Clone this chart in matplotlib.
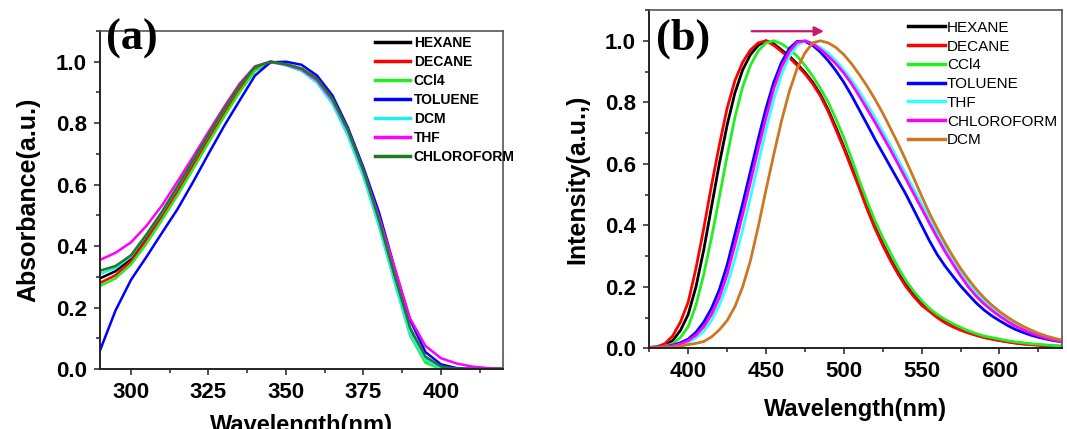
"""
Absorption and emission spectra in solvents of different polarity.
"""

import matplotlib
matplotlib.use("Agg")
import matplotlib.pyplot as plt
from matplotlib.ticker import MultipleLocator

plt.rcParams["font.family"] = ["Liberation Sans", "DejaVu Sans"]

# ---------------- (a) absorbance ----------------
abs_wl = [290, 295, 300, 305, 310, 315, 320, 325, 330, 335, 340, 345, 350, 355,
          360, 365, 370, 375, 380, 385, 390, 395, 400, 405, 410, 415, 420]
abs_labels = ["HEXANE", "DECANE", "CCl4", "TOLUENE", "DCM", "THF", "CHLOROFORM"]
abs_colors = ["#000000", "#ff0000", "#22ee22", "#0000ff", "#22eeee", "#ff00ff", "#207a20"]

abs_hexane = [0.295, 0.318, 0.358, 0.428, 0.503, 0.585, 0.670, 0.757, 0.841, 0.918, 0.980, 1.000, 0.990, 0.975,
              0.940, 0.870, 0.765, 0.630, 0.470, 0.290, 0.120, 0.030, 0.0, 0.0, 0.0, 0.0, 0.0]
abs_decane = [0.280, 0.305, 0.350, 0.420, 0.497, 0.578, 0.662, 0.748, 0.832, 0.910, 0.975, 1.000, 0.992, 0.977,
              0.945, 0.878, 0.773, 0.640, 0.480, 0.300, 0.130, 0.035, 0.005, 0.0, 0.0, 0.0, 0.0]
abs_ccl4 = [0.270, 0.295, 0.340, 0.408, 0.485, 0.565, 0.650, 0.736, 0.820, 0.900, 0.970, 0.998, 0.992, 0.976,
            0.940, 0.873, 0.770, 0.635, 0.470, 0.285, 0.110, 0.020, 0.0, 0.0, 0.0, 0.0, 0.0]
abs_toluene = [0.060, 0.190, 0.290, 0.365, 0.443, 0.520, 0.608, 0.700, 0.790, 0.873, 0.955, 0.998, 1.000, 0.990,
               0.955, 0.890, 0.785, 0.655, 0.510, 0.330, 0.160, 0.055, 0.015, 0.003, 0.0, 0.0, 0.0]
abs_dcm = [0.310, 0.328, 0.366, 0.436, 0.510, 0.592, 0.677, 0.762, 0.845, 0.922, 0.983, 1.000, 0.988, 0.970,
           0.932, 0.862, 0.758, 0.625, 0.465, 0.285, 0.115, 0.030, 0.002, 0.0, 0.0, 0.0, 0.0]
abs_thf = [0.355, 0.378, 0.412, 0.466, 0.532, 0.610, 0.690, 0.772, 0.852, 0.928, 0.985, 1.000, 0.990, 0.975,
           0.940, 0.875, 0.775, 0.645, 0.495, 0.330, 0.165, 0.075, 0.035, 0.018, 0.008, 0.003, 0.001]
abs_chloroform = [0.320, 0.335, 0.370, 0.438, 0.512, 0.594, 0.678, 0.763, 0.846, 0.922, 0.983, 1.000, 0.992, 0.978,
                  0.945, 0.880, 0.778, 0.645, 0.485, 0.305, 0.135, 0.040, 0.008, 0.0, 0.0, 0.0, 0.0]
abs_values = [abs_hexane, abs_decane, abs_ccl4, abs_toluene, abs_dcm, abs_thf, abs_chloroform]

# ---------------- (b) emission ----------------
em_wl = [375, 380, 385, 390, 395, 400, 405, 410, 415, 420, 425, 430, 435, 440, 445, 450, 455, 460,
         465, 470, 475, 480, 485, 490, 495, 500, 505, 510, 515, 520, 525, 530, 535, 540, 545, 550,
         555, 560, 565, 570, 575, 580, 585, 590, 595, 600, 605, 610, 615, 620, 625, 630, 635, 640]
em_labels = ["HEXANE", "DECANE", "CCl4", "TOLUENE", "THF", "CHLOROFORM", "DCM"]
em_colors = ["#000000", "#ff0000", "#22ee22", "#0000ff", "#33ffff", "#ff00ff", "#cc7722"]

em_hexane = [0.003, 0.004, 0.010, 0.025, 0.058, 0.110, 0.200, 0.320, 0.460, 0.600, 0.725, 0.830, 0.905, 0.955,
             0.985, 1.000, 0.990, 0.970, 0.950, 0.925, 0.897, 0.865, 0.825, 0.775, 0.717, 0.655, 0.590, 0.525,
             0.458, 0.395, 0.340, 0.290, 0.245, 0.205, 0.173, 0.145, 0.123, 0.105, 0.089, 0.075, 0.063, 0.053,
             0.044, 0.037, 0.031, 0.026, 0.022, 0.018, 0.015, 0.013, 0.011, 0.009, 0.007, 0.006]
em_decane = [0.003, 0.005, 0.015, 0.040, 0.085, 0.150, 0.260, 0.390, 0.530, 0.660, 0.780, 0.870, 0.930, 0.970,
             0.993, 1.000, 0.985, 0.965, 0.945, 0.920, 0.893, 0.860, 0.820, 0.770, 0.710, 0.650, 0.585, 0.520,
             0.452, 0.390, 0.335, 0.285, 0.240, 0.200, 0.168, 0.140, 0.120, 0.100, 0.083, 0.070, 0.059, 0.050,
             0.042, 0.035, 0.030, 0.025, 0.021, 0.017, 0.014, 0.012, 0.010, 0.008, 0.006, 0.005]
em_ccl4 = [0.002, 0.003, 0.007, 0.015, 0.035, 0.070, 0.140, 0.240, 0.360, 0.490, 0.625, 0.750, 0.850, 0.920,
           0.967, 0.993, 1.000, 0.990, 0.973, 0.950, 0.920, 0.885, 0.845, 0.800, 0.745, 0.685, 0.617, 0.545,
           0.478, 0.415, 0.360, 0.310, 0.262, 0.220, 0.185, 0.155, 0.130, 0.110, 0.094, 0.080, 0.068, 0.057,
           0.048, 0.040, 0.035, 0.030, 0.025, 0.021, 0.018, 0.015, 0.013, 0.011, 0.009, 0.008]
em_toluene = [0.002, 0.003, 0.005, 0.010, 0.018, 0.030, 0.052, 0.085, 0.130, 0.190, 0.270, 0.370, 0.470, 0.575,
              0.680, 0.780, 0.865, 0.930, 0.975, 0.998, 0.998, 0.985, 0.963, 0.935, 0.902, 0.865, 0.822, 0.775,
              0.728, 0.680, 0.635, 0.590, 0.545, 0.500, 0.450, 0.400, 0.350, 0.305, 0.268, 0.235, 0.203, 0.175,
              0.148, 0.125, 0.106, 0.090, 0.075, 0.062, 0.052, 0.043, 0.036, 0.030, 0.025, 0.021]
em_thf = [0.002, 0.002, 0.004, 0.006, 0.011, 0.020, 0.034, 0.055, 0.090, 0.140, 0.205, 0.290, 0.385, 0.490,
          0.600, 0.710, 0.810, 0.890, 0.950, 0.985, 1.000, 0.993, 0.978, 0.960, 0.935, 0.905, 0.872, 0.835,
          0.794, 0.750, 0.705, 0.660, 0.613, 0.565, 0.517, 0.470, 0.422, 0.375, 0.330, 0.290, 0.250, 0.215,
          0.183, 0.155, 0.132, 0.112, 0.095, 0.080, 0.067, 0.055, 0.045, 0.037, 0.030, 0.024]
em_chloroform = [0.002, 0.003, 0.005, 0.008, 0.014, 0.025, 0.043, 0.070, 0.110, 0.165, 0.240, 0.335, 0.435, 0.540,
                 0.648, 0.750, 0.845, 0.915, 0.965, 0.995, 1.000, 0.990, 0.972, 0.950, 0.925, 0.895, 0.860, 0.820,
                 0.778, 0.735, 0.690, 0.645, 0.598, 0.550, 0.502, 0.455, 0.407, 0.360, 0.315, 0.275, 0.236, 0.200,
                 0.170, 0.145, 0.124, 0.105, 0.088, 0.073, 0.061, 0.050, 0.041, 0.033, 0.027, 0.021]
em_dcm = [0.002, 0.002, 0.003, 0.004, 0.007, 0.012, 0.016, 0.022, 0.037, 0.060, 0.090, 0.135, 0.200, 0.285,
          0.395, 0.515, 0.630, 0.740, 0.835, 0.910, 0.960, 0.993, 1.000, 0.993, 0.978, 0.955, 0.925, 0.890,
          0.852, 0.810, 0.765, 0.715, 0.664, 0.610, 0.553, 0.495, 0.440, 0.390, 0.343, 0.300, 0.260, 0.225,
          0.193, 0.165, 0.141, 0.120, 0.102, 0.086, 0.072, 0.060, 0.049, 0.040, 0.033, 0.027]
em_values = [em_hexane, em_decane, em_ccl4, em_toluene, em_thf, em_chloroform, em_dcm]


def style_axes(ax):
    for side in ["left", "bottom"]:
        ax.spines[side].set_color("#222222")
        ax.spines[side].set_linewidth(1.4)
    for side in ["top", "right"]:
        ax.spines[side].set_color("#555555")
        ax.spines[side].set_linewidth(1.2)
    ax.tick_params(which="both", direction="out", top=False, right=False, width=1.2, color="#333333")
    ax.tick_params(which="major", length=4.5, labelsize=16, pad=5)
    ax.tick_params(which="minor", length=2.8)
    for lab in ax.get_xticklabels() + ax.get_yticklabels():
        lab.set_fontweight("bold")
    ax.yaxis.set_major_locator(MultipleLocator(0.2))
    ax.yaxis.set_minor_locator(MultipleLocator(0.1))
    ax.set_ylim(0, 1.1)


fig = plt.figure(figsize=(10.67, 4.29), dpi=100)

ax1 = fig.add_axes([0.0937, 0.1399, 0.3777, 0.7879])
for vals, color, label in zip(abs_values, abs_colors, abs_labels):
    ax1.plot(abs_wl, vals, color=color, lw=1.8, label=label)
ax1.set_xlim(290, 420)
ax1.xaxis.set_major_locator(MultipleLocator(25))
ax1.xaxis.set_minor_locator(MultipleLocator(12.5))
style_axes(ax1)
ax1.set_xlabel("Wavelength(nm)", fontsize=17, fontweight="bold", labelpad=8)
ax1.set_ylabel("Absorbance(a.u.)", fontsize=18, fontweight="bold", labelpad=11)
leg1 = ax1.legend(loc="upper left", bbox_to_anchor=(0.682, 0.985), frameon=False,
                  prop={"size": 10, "weight": "bold"}, handlelength=2.5, handletextpad=0.3,
                  labelspacing=0.36, borderpad=0, borderaxespad=0)
for line in leg1.get_lines():
    line.set_linewidth(2.5)

ax2 = fig.add_axes([0.6085, 0.1881, 0.3865, 0.7886])
for vals, color, label in zip(em_values, em_colors, em_labels):
    ax2.plot(em_wl, vals, color=color, lw=2.0, label=label)
ax2.set_xlim(375, 640)
ax2.xaxis.set_major_locator(MultipleLocator(50))
ax2.xaxis.set_minor_locator(MultipleLocator(25))
style_axes(ax2)
ax2.set_xlabel("Wavelength(nm)", fontsize=17, fontweight="bold", labelpad=11)
ax2.set_ylabel("Intensity(a.u.,)", fontsize=18, fontweight="bold", labelpad=11)
leg2 = ax2.legend(loc="upper left", bbox_to_anchor=(0.627, 0.968), frameon=False,
                  prop={"size": 11}, handlelength=2.4, handletextpad=0.15,
                  labelspacing=0.31, borderpad=0, borderaxespad=0)
for line in leg2.get_lines():
    line.set_linewidth(2.5)

ax2.annotate("", xy=(489, 1.031), xytext=(439, 1.031),
             arrowprops=dict(arrowstyle="-|>", color="#cc1670", lw=1.6, mutation_scale=14))

fig.text(106 / 1067, 1 - 50 / 429, "(a)", fontsize=32, fontweight="bold",
         family="Liberation Serif", va="baseline")
fig.text(656 / 1067, 1 - 50 / 429, "(b)", fontsize=32, fontweight="bold",
         family="Liberation Serif", va="baseline")

fig.savefig("out.png", dpi=100)
